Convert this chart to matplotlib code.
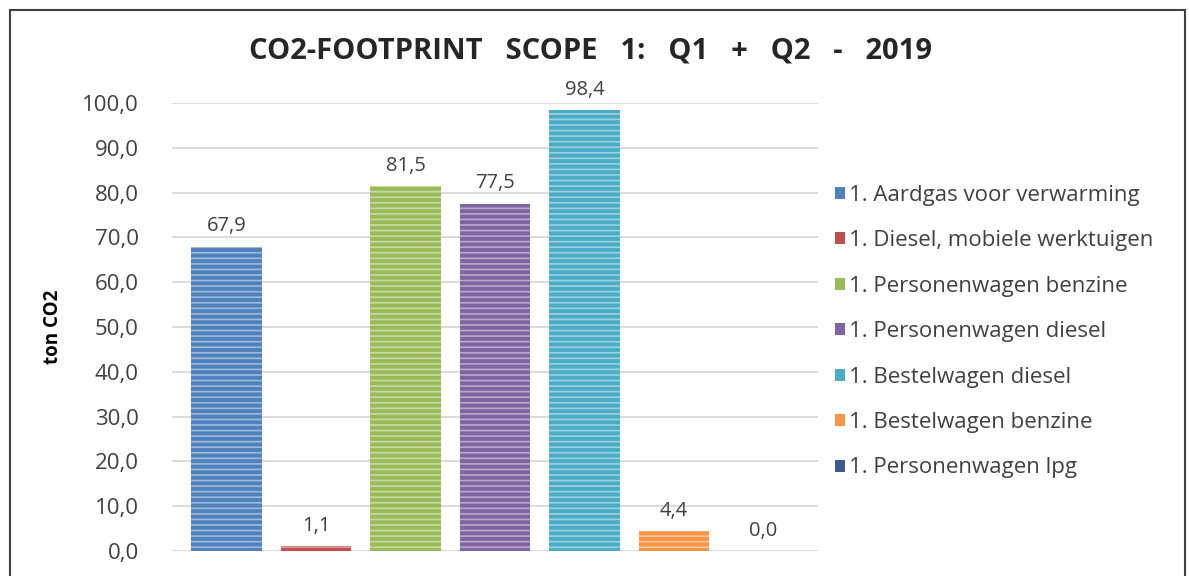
import matplotlib.pyplot as plt
from matplotlib.patches import Rectangle

plt.rcParams['font.family'] = ['Open Sans', 'DejaVu Sans']
plt.rcParams['hatch.linewidth'] = 1.2

labels = ['1. Aardgas voor verwarming', '1. Diesel, mobiele werktuigen',
          '1. Personenwagen benzine', '1. Personenwagen diesel',
          '1. Bestelwagen diesel', '1. Bestelwagen benzine',
          '1. Personenwagen lpg']
values = [67.9, 1.1, 81.5, 77.5, 98.4, 4.4, 0.0]
colors = ['#4F81BD', '#C0504D', '#9BBB59', '#8064A2', '#4BACC6', '#F79646', '#3B5B8A']
yticks = [0, 10, 20, 30, 40, 50, 60, 70, 80, 90, 100]

fig = plt.figure(figsize=(11.89, 5.76), dpi=100)
ax = fig.add_axes([0.1447, 0.0434, 0.5433, 0.7778])

for i, (lab, v, c) in enumerate(zip(labels, values, colors)):
    ax.bar(i, v, width=0.79, color=c, edgecolor=(1, 1, 1, 0.45),
           linewidth=0, hatch='---', label=lab, zorder=3)
    ax.text(i, v + 2.3, f'{v:.1f}'.replace('.', ','), ha='center', va='bottom',
            fontsize=14.5, color='#404040')

ax.set_xlim(-0.61, 6.61)
ax.set_ylim(0, 100)
ax.set_yticks(yticks)
ax.set_yticklabels([f'{t:.1f}'.replace('.', ',') for t in yticks], fontsize=16, color='#404040')
ax.set_xticks([])
ax.tick_params(axis='y', length=0, pad=24)
ax.grid(axis='y', color='#D9D9D9', linewidth=1.3, zorder=0)
for s in ax.spines.values():
    s.set_visible(False)
ax.set_ylabel('ton CO2', fontsize=13.5, fontweight='bold', labelpad=14)

fig.text(0.497, 0.912, 'CO2-FOOTPRINT   SCOPE   1:   Q1   +   Q2   -   2019', ha='center', va='center',
         fontsize=21, fontweight='bold', color='#262626')

leg = ax.legend(loc='upper left', bbox_to_anchor=(0.995, 0.862), frameon=False,
                fontsize=16, handlelength=0.45, handleheight=0.45, handletextpad=0.2,
                labelspacing=1.1, labelcolor='#404040')
for h in leg.legend_handles:
    h.set_hatch(None)

fig.add_artist(Rectangle((10 / 1189, -0.02), 1175 / 1189, 1.0026, transform=fig.transFigure,
                         fill=False, edgecolor='#404040', linewidth=1.5))

fig.savefig('out.png', dpi=100)
